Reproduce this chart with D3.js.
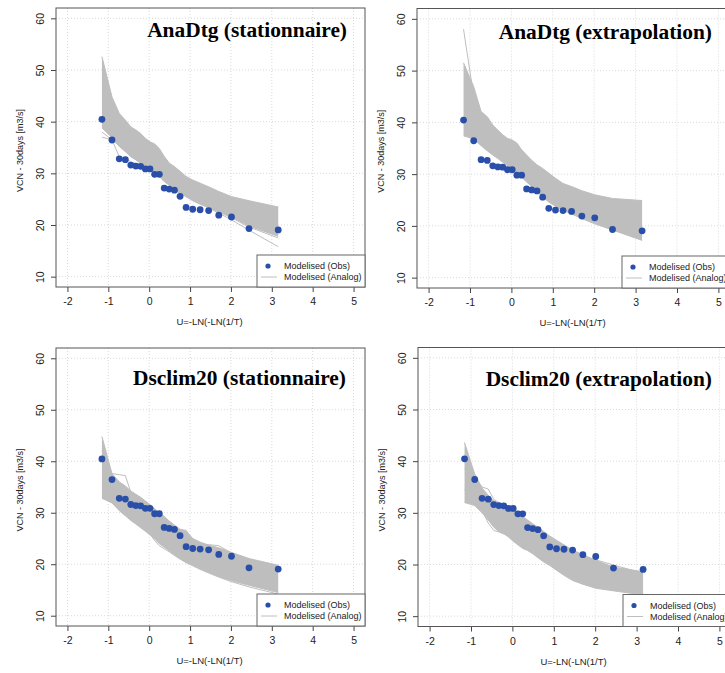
<!DOCTYPE html>
<html><head><meta charset="utf-8">
<script src="https://cdn.jsdelivr.net/npm/d3@7/dist/d3.min.js"></script>
<style>body{margin:0;background:#fff} svg{display:block}</style>
</head><body>
<svg id="c" width="725" height="673"></svg>
<script>
// ---------- DATA ----------
// Gumbel reduced variate positions of the 23 ranked observations
const uPositions = [-1.156, -0.910, -0.732, -0.583, -0.450, -0.327, -0.209, -0.094, 0.019, 0.133, 0.248, 0.367, 0.489, 0.618, 0.755, 0.903, 1.065, 1.246, 1.454, 1.702, 2.013, 2.442, 3.157];
const obsValues = [40.45, 36.45, 32.8, 32.65, 31.6, 31.4, 31.35, 30.85, 30.85, 29.8, 29.8, 27.15, 26.95, 26.75, 25.55, 23.4, 23.05, 22.95, 22.8, 21.9, 21.55, 19.3, 19.05];
const xTicks = [-2, -1, 0, 1, 2, 3, 4, 5];
const yTicks = [10, 20, 30, 40, 50, 60];
const panelTitles = ["AnaDtg (stationnaire)", "AnaDtg (extrapolation)", "Dsclim20 (stationnaire)", "Dsclim20 (extrapolation)"];
const legendLabels = ["Modelised (Obs)", "Modelised (Analog)"];
const xAxisTitle = "U=-LN(-LN(1/T)";
const yAxisTitle = "VCN - 30days [m3/s]";

// Analog ensembles: upper / lower envelope of the bundle and a few outlying members
const anaStatHi = [52.6, 44.8, 41.6, 40.3, 39.0, 38.4, 37.7, 36.8, 36.1, 35.7, 34.8, 33.3, 32.0, 31.3, 30.4, 29.4, 28.7, 28.1, 27.4, 26.5, 25.5, 24.7, 23.5];
const anaStatLo = [38.8, 36.9, 35.2, 34.2, 33.2, 32.6, 31.9, 31.3, 30.6, 30.0, 29.4, 28.4, 27.7, 26.8, 26.1, 25.5, 24.8, 24.2, 23.5, 22.6, 21.6, 19.8, 17.8];
const anaStatOut1 = [37.0, 36.5, 35.3, 34.4, 33.5, 32.9, 32.2, 31.6, 30.9, 30.3, 29.6, 28.6, 27.9, 27.0, 26.3, 25.6, 24.9, 24.3, 23.6, 22.7, 21.7, 20.0, 18.2];
const anaStatOut2 = [38.0, 36.5, 33.2, 33.0, 32.2, 31.9, 31.6, 31.1, 30.8, 30.2, 29.9, 28.6, 27.8, 27.0, 26.3, 25.6, 24.9, 24.2, 23.4, 22.5, 21.4, 19.6, 17.5];
const anaStatOut3 = [40.5, 37.5, 35.8, 34.8, 33.9, 33.2, 32.5, 31.8, 31.1, 30.4, 29.7, 28.8, 28.0, 27.1, 26.3, 25.5, 24.7, 24.0, 23.3, 22.3, 21.0, 19.0, 15.8];

const anaExtHi = [51.5, 46.9, 42.1, 41.1, 39.5, 38.5, 37.6, 36.9, 36.6, 36.0, 34.7, 33.7, 32.7, 31.8, 31.1, 30.2, 29.2, 28.2, 27.6, 26.8, 26.0, 25.3, 24.9];
const anaExtLo = [37.4, 36.8, 35.5, 34.5, 33.7, 33.0, 32.3, 31.6, 30.9, 30.2, 29.4, 28.5, 27.6, 26.6, 25.6, 24.6, 23.8, 23.0, 22.3, 21.4, 20.4, 19.2, 17.2];
const anaExtOut1 = [58.0, 45.0, 40.5, 39.3, 38.0, 37.2, 36.4, 35.7, 35.0, 34.3, 33.4, 32.5, 31.6, 30.7, 29.9, 29.0, 28.1, 27.2, 26.4, 25.5, 24.6, 23.5, 22.0];
const anaExtOut2 = [41.0, 38.5, 37.0, 35.8, 34.8, 34.0, 33.3, 32.6, 31.9, 31.2, 30.5, 29.6, 28.8, 27.9, 27.2, 26.5, 25.9, 25.4, 25.1, 24.9, 24.8, 24.7, 24.6];

const dscStatHi = [44.8, 37.6, 36.0, 35.2, 34.2, 33.6, 33.0, 32.3, 31.6, 30.8, 30.0, 29.3, 28.4, 27.6, 26.8, 26.4, 25.0, 24.3, 23.7, 23.2, 22.3, 21.1, 19.8];
const dscStatLo = [32.8, 31.9, 30.4, 29.4, 28.5, 27.8, 27.1, 26.4, 25.7, 24.9, 24.0, 23.3, 22.6, 21.8, 21.1, 20.4, 19.8, 19.1, 18.4, 17.6, 16.8, 15.9, 14.5];
const dscStatOut1 = [42.0, 37.6, 37.4, 37.2, 34.0, 33.2, 32.5, 31.8, 31.0, 30.2, 29.4, 28.6, 27.8, 27.0, 26.7, 26.6, 24.8, 24.0, 23.8, 23.6, 22.2, 21.0, 19.5];
const dscStatOut2 = [33.0, 32.9, 31.0, 30.0, 29.0, 28.3, 27.4, 26.7, 25.9, 24.6, 23.6, 23.0, 22.4, 21.7, 21.0, 20.3, 19.7, 19.0, 18.3, 17.5, 16.6, 15.6, 14.2];

const dscExtHi = [43.6, 37.5, 34.8, 33.4, 32.3, 31.9, 31.6, 31.2, 30.8, 30.0, 29.3, 28.6, 27.9, 27.2, 26.4, 25.5, 24.7, 23.8, 22.8, 21.9, 20.8, 19.5, 18.6];
const dscExtLo = [32.0, 31.4, 30.0, 28.6, 27.2, 26.4, 26.0, 25.3, 24.5, 23.8, 23.1, 22.7, 22.1, 21.3, 20.5, 19.8, 18.9, 17.9, 16.9, 16.2, 15.4, 14.9, 14.1];
const dscExtOut1 = [34.5, 32.2, 30.5, 28.0, 26.6, 26.3, 25.9, 25.6, 25.0, 24.2, 23.4, 23.0, 22.3, 21.5, 20.7, 20.0, 19.2, 18.2, 17.2, 16.2, 15.6, 15.1, 14.3];
const dscExtOut2 = [38.5, 36.8, 35.0, 34.6, 32.6, 32.0, 31.4, 30.8, 30.2, 29.4, 28.6, 28.0, 27.3, 26.7, 25.9, 25.2, 24.4, 23.5, 22.6, 21.7, 20.9, 19.9, 18.3];

const ensembles = [
  {hi: anaStatHi, lo: anaStatLo, members: [anaStatOut1, anaStatOut2, anaStatOut3]},
  {hi: anaExtHi, lo: anaExtLo, members: [anaExtOut1, anaExtOut2]},
  {hi: dscStatHi, lo: dscStatLo, members: [dscStatOut1, dscStatOut2]},
  {hi: dscExtHi, lo: dscExtLo, members: [dscExtOut1, dscExtOut2]}
];

// ---------- LAYOUT ----------
const layout = [
  {x0: 56, y0: 8, x1: 365, y1: 287, tx: 347, ty: 37},
  {x0: 417, y0: 8.5, x1: 730, y1: 288, tx: 712, ty: 39},
  {x0: 56, y0: 348, x1: 365, y1: 626, tx: 346, ty: 385},
  {x0: 418, y0: 347.5, x1: 731, y1: 626.5, tx: 712, ty: 386}
];
const GRAY = "#bebebe", BLUE = "#2a4fa8", FONT = "'Liberation Sans', Arial, sans-serif";

const svg = d3.select("#c");
svg.append("rect").attr("width", 725).attr("height", 673).attr("fill", "#fff");

layout.forEach((L, i) => {
  const g = svg.append("g");
  const x = d3.scaleLinear().domain([-2.28, 5.28]).range([L.x0, L.x1]);
  const y = d3.scaleLinear().domain([8, 62]).range([L.y1, L.y0]);
  const ens = ensembles[i];

  // grid
  g.append("g").selectAll("line").data(xTicks).join("line")
    .attr("x1", d => x(d)).attr("x2", d => x(d)).attr("y1", L.y0).attr("y2", L.y1)
    .attr("stroke", "#d9d9d9").attr("stroke-dasharray", "1,2");
  g.append("g").selectAll("line").data(yTicks).join("line")
    .attr("y1", d => y(d)).attr("y2", d => y(d)).attr("x1", L.x0).attr("x2", L.x1)
    .attr("stroke", "#d9d9d9").attr("stroke-dasharray", "1,2");

  // analog band
  const area = d3.area().x((d, j) => x(uPositions[j])).y0((d, j) => y(ens.lo[j])).y1(d => y(d));
  g.append("path").datum(ens.hi).attr("d", area).attr("fill", GRAY).attr("stroke", "none");
  const line = d3.line().x((d, j) => x(uPositions[j])).y(d => y(d));
  [ens.hi, ens.lo, ...ens.members].forEach(m => {
    g.append("path").datum(m).attr("d", line).attr("fill", "none")
      .attr("stroke", GRAY).attr("stroke-width", 1);
  });

  // observations
  g.append("g").selectAll("circle").data(obsValues).join("circle")
    .attr("cx", (d, j) => x(uPositions[j])).attr("cy", d => y(d)).attr("r", 3.4)
    .attr("fill", BLUE);

  // axes
  const ax = g.append("g").attr("transform", `translate(0,${L.y1})`)
    .call(d3.axisBottom(x).tickValues(xTicks).tickSize(5).tickPadding(6)
      .tickFormat(d => (d < 0 ? "-" + Math.abs(d) : String(d))));
  ax.select(".domain").remove();
  ax.selectAll("line").attr("stroke", "#444");
  ax.selectAll("text").attr("font-family", FONT).attr("font-size", 10.5).attr("fill", "#222");

  const ay = g.append("g").attr("transform", `translate(${L.x0},0)`)
    .call(d3.axisLeft(y).tickValues(yTicks).tickSize(5));
  ay.select(".domain").remove();
  ay.selectAll("line").attr("stroke", "#444");
  ay.selectAll("text").attr("font-family", FONT).attr("font-size", 10.5).attr("fill", "#222")
    .attr("x", null).attr("dy", null).attr("text-anchor", "middle")
    .attr("transform", "translate(-12,0) rotate(-90)");

  // box
  g.append("rect").attr("x", L.x0).attr("y", L.y0).attr("width", L.x1 - L.x0).attr("height", L.y1 - L.y0)
    .attr("fill", "none").attr("stroke", "#555").attr("stroke-width", 1);

  // axis titles
  g.append("text").attr("x", (L.x0 + L.x1) / 2 - 1).attr("y", L.y1 + 38)
    .attr("text-anchor", "middle").attr("font-family", FONT).attr("font-size", 9.5).attr("fill", "#222")
    .text(xAxisTitle);
  g.append("text").attr("transform", `translate(${L.x0 - 33},${(L.y0 + L.y1) / 2 + 3}) rotate(-90)`)
    .attr("text-anchor", "middle").attr("font-family", FONT).attr("font-size", 9).attr("fill", "#222")
    .text(yAxisTitle);

  // legend
  const lw = 108, lh = 32;
  const lg = g.append("g").attr("transform", `translate(${L.x1 - lw},${L.y1 - lh})`);
  lg.append("rect").attr("width", lw).attr("height", lh).attr("fill", "#fff").attr("stroke", "#666");
  lg.append("circle").attr("cx", 11).attr("cy", 11).attr("r", 2.6).attr("fill", BLUE);
  lg.append("line").attr("x1", 4).attr("x2", 20).attr("y1", 22).attr("y2", 22).attr("stroke", GRAY);
  lg.selectAll("text").data(legendLabels).join("text")
    .attr("x", 27).attr("y", (d, j) => 14.3 + j * 11)
    .attr("font-family", FONT).attr("font-size", 9).attr("fill", "#222").text(d => d);

  // title
  g.append("text").attr("x", L.tx).attr("y", L.ty).attr("text-anchor", "end")
    .attr("font-family", "'Liberation Serif', 'Times New Roman', serif").attr("font-weight", "bold")
    .attr("font-size", 21.4).attr("fill", "#000").text(panelTitles[i]);
});
</script>
</body></html>
